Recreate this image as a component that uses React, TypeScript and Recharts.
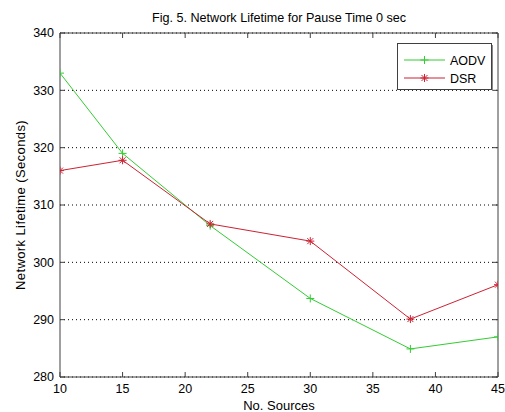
import React from "react";
import { CartesianGrid, Label, Legend, Line, LineChart, XAxis, YAxis } from "recharts";

const sources = [10, 15, 22, 30, 38, 45];
const aodv = [333, 319, 306.4, 293.7, 284.9, 287];
const dsr = [316, 317.8, 306.7, 303.7, 290.1, 296.1];
const xTicks = [10, 15, 20, 25, 30, 35, 40, 45];
const yTicks = [280, 290, 300, 310, 320, 330, 340];

const GREEN = "#33cc33";
const RED = "#cc2233";
const AXIS = "#404040";
const FONT = "'Liberation Sans', Arial, sans-serif";

const data = sources.map((s, i) => ({ sources: s, aodv: aodv[i], dsr: dsr[i] }));

const PlusDot = (props: any) => {
  const { cx, cy, stroke } = props;
  if (cx == null || cy == null) return null;
  return (
    <g stroke={stroke} strokeWidth={1}>
      <line x1={cx - 4} y1={cy} x2={cx + 4} y2={cy} />
      <line x1={cx} y1={cy - 4} x2={cx} y2={cy + 4} />
    </g>
  );
};

const StarDot = (props: any) => {
  const { cx, cy, stroke } = props;
  if (cx == null || cy == null) return null;
  return (
    <g stroke={stroke} strokeWidth={1}>
      <line x1={cx - 4} y1={cy} x2={cx + 4} y2={cy} />
      <line x1={cx} y1={cy - 4} x2={cx} y2={cy + 4} />
      <line x1={cx - 3} y1={cy - 3} x2={cx + 3} y2={cy + 3} />
      <line x1={cx - 3} y1={cy + 3} x2={cx + 3} y2={cy - 3} />
    </g>
  );
};

const LegendBox = () => (
  <svg width={96} height={48} style={{ display: "block" }}>
    <rect x={0.5} y={0.5} width={94} height={46} fill="#fff" stroke={AXIS} />
    <line x1={95.5} y1={2} x2={95.5} y2={48} stroke="#888" />
    <line x1={7} y1={17} x2={48} y2={17} stroke={GREEN} />
    <PlusDot cx={27.5} cy={17} stroke={GREEN} />
    <text x={53} y={21.5} fontSize={12.5} fontFamily={FONT} fill="#000">AODV</text>
    <line x1={7} y1={35} x2={48} y2={35} stroke={RED} />
    <StarDot cx={27.5} cy={35} stroke={RED} />
    <text x={53} y={39.5} fontSize={12.5} fontFamily={FONT} fill="#000">DSR</text>
  </svg>
);

export default function App() {
  const tickStyle = { fill: "#000", fontSize: 12.5, fontFamily: FONT };
  return (
    <div style={{ position: "absolute", left: 0, top: 0, width: 505, height: 412, background: "#fff" }}>
      <LineChart width={505} height={412} data={data} margin={{ top: 0, right: 0, left: 0, bottom: 0 }}>
        <CartesianGrid vertical={false} stroke="#000" strokeDasharray="1 3" />
        <XAxis
          dataKey="sources"
          type="number"
          domain={[10, 45]}
          ticks={xTicks}
          height={35}
          stroke={AXIS}
          tick={tickStyle}
          tickSize={-5}
          tickMargin={12}
          allowDataOverflow
        >
          <Label value="No. Sources" position="insideBottom" offset={2} fill="#000" fontSize={13} fontFamily={FONT} />
        </XAxis>
        <XAxis
          xAxisId="top"
          orientation="top"
          dataKey="sources"
          type="number"
          domain={[10, 45]}
          ticks={xTicks}
          height={33}
          stroke={AXIS}
          tickFormatter={() => ""}
          tickSize={-5}
          allowDataOverflow
        >
          <Label
            value="Fig. 5. Network Lifetime for Pause Time 0 sec"
            position="center"
            dy={1}
            fill="#000"
            fontSize={12.6}
            fontFamily={FONT}
          />
        </XAxis>
        <YAxis
          type="number"
          domain={[280, 340]}
          ticks={yTicks}
          width={60}
          stroke={AXIS}
          tick={tickStyle}
          tickSize={-5}
          tickMargin={11}
          allowDataOverflow
        >
          <Label
            value="Network Lifetime (Seconds)"
            angle={-90}
            position="center"
            dx={-10}
            fill="#000"
            fontSize={13}
            letterSpacing={0.4}
            fontFamily={FONT}
          />
        </YAxis>
        <YAxis
          yAxisId="right"
          orientation="right"
          type="number"
          domain={[280, 340]}
          ticks={yTicks}
          width={7}
          stroke={AXIS}
          tickFormatter={() => ""}
          tickSize={-5}
          allowDataOverflow
        />
        <Legend
          layout="horizontal"
          verticalAlign="middle"
          align="center"
          content={() => <LegendBox />}
          wrapperStyle={{ left: 397, top: 43, width: 96, height: 48 }}
        />
        <Line
          type="linear"
          dataKey="aodv"
          name="AODV"
          stroke={GREEN}
          strokeWidth={1}
          dot={<PlusDot />}
          activeDot={false}
          isAnimationActive={false}
        />
        <Line
          type="linear"
          dataKey="dsr"
          name="DSR"
          stroke={RED}
          strokeWidth={1}
          dot={<StarDot />}
          activeDot={false}
          isAnimationActive={false}
        />
      </LineChart>
    </div>
  );
}
